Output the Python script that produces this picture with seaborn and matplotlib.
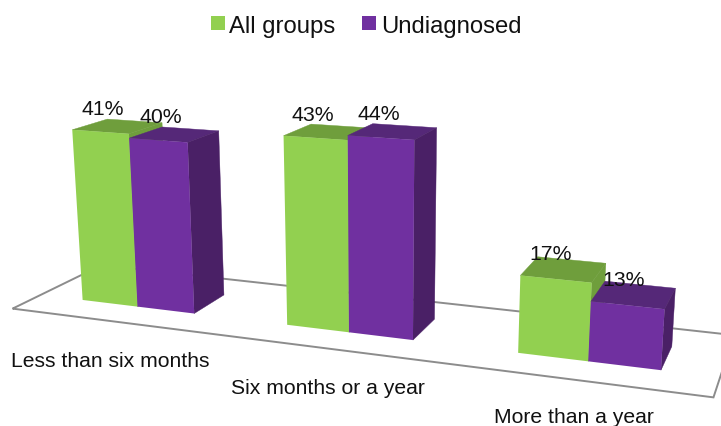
import matplotlib
matplotlib.use("Agg")
import matplotlib.pyplot as plt
import numpy as np
import pandas as pd
import seaborn as sns
from matplotlib.patches import Polygon
from matplotlib.transforms import Affine2D, Transform

W, H = 721, 427

categories = ["Less than six months", "Six months or a year", "More than a year"]
all_groups = [41, 43, 17]
undiagnosed = [40, 44, 13]
series_names = ["All groups", "Undiagnosed"]

GREEN, GREEN_DARK = "#92D050", "#6F9E3C"
PURPLE, PURPLE_TOP, PURPLE_SIDE = "#7030A0", "#552878", "#4A2066"

# camera fit: (bar x, depth, percent) -> pixel in the reference, used only to
# get the 3x4 projection of the fake-3D view
CALIB = np.array([
    (-0.28, 0, 0, 82, 300.7), (0, 0, 0, 137.7, 307.7), (0.28, 0, 0, 195.7, 314.3),
    (-0.28, 0, 41, 71.7, 130.7), (0, 0, 40, 129.3, 138.7), (0.28, 0, 40, 189, 143.7),
    (0.28, 1, 40, 220, 132.3), (0.28, 1, 0, 225.3, 295), (-0.28, 1, 41, 106.7, 120),
    (0, 1, 41, 162.3, 124.3), (0.72, 0, 43, 282.3, 136.7), (0.72, 1, 43, 310, 125),
    (0.72, 0, 0, 285.7, 326), (1, 0, 0, 348.7, 333.3), (1, 0, 44, 347.3, 135.7),
    (1.28, 0, 44, 415.7, 141), (1.28, 0, 0, 414, 340.7), (1.28, 1, 44, 437, 129),
    (1.28, 1, 0, 435, 319.3), (1, 1, 44, 372.7, 124.3), (1.72, 0, 17, 519, 276.7),
    (1.72, 1, 17, 538.3, 258.3), (2, 1, 17, 604.7, 264.3), (2, 0, 17, 591, 282.7),
    (1.72, 0, 0, 516.3, 354), (2, 0, 0, 588, 362.7), (2, 0, 13, 591, 302.7),
    (2.28, 0, 13, 665.7, 310), (2.28, 1, 13, 675, 290), (2.28, 0, 0, 662, 371.3),
    (2.28, 1, 0, 672.3, 346.7), (-0.5, -0.75, 0, 12.7, 310),
    (-0.5, 1.8, 0, 100.5, 267), (2.5, -0.75, 0, 713.3, 399.3),
])


def fit_camera(pts):
    rows, rhs = [], []
    for x, d, z, u, v in pts:
        rows.append([x, d, z, 1, 0, 0, 0, 0, -u * x, -u * d, -u * z])
        rows.append([0, 0, 0, 0, x, d, z, 1, -v * x, -v * d, -v * z])
        rhs += [u, v]
    p = np.linalg.lstsq(np.array(rows), np.array(rhs), rcond=None)[0]
    return np.append(p, 1).reshape(3, 4)


CAM = fit_camera(CALIB)


def project(x, d, z):
    """Pixel position (y down) of a point of the 3D chart."""
    u, v, w = CAM @ np.array([x, d, z, 1.0])
    return u / w, v / w


class FrontPlane(Transform):
    """Sends seaborn's (x, percent) bars to the front plane of the 3D view, in display pixels."""
    input_dims = 2
    output_dims = 2

    def transform_non_affine(self, values):
        values = np.asarray(values, dtype=float)
        out = np.array([project(x, 0, z) for x, z in values])
        out[:, 1] = H - out[:, 1]
        return out


sns.set_theme(style="white")
plt.rcParams["font.family"] = ["Liberation Sans", "DejaVu Sans"]
plt.rcParams["text.color"] = "#111111"

df = pd.DataFrame({
    "period": categories * 2,
    "share": all_groups + undiagnosed,
    "series": [series_names[0]] * 3 + [series_names[1]] * 3,
})

fig = plt.figure(figsize=(W / 100, H / 100), dpi=100, facecolor="white")
ax = fig.add_axes([0, 0, 1, 1])
sns.barplot(data=df, x="period", y="share", hue="series", palette=[GREEN, PURPLE],
            width=0.56, gap=0, saturation=1, linewidth=0, errorbar=None, ax=ax)
ax.set_xlabel("")
ax.set_ylabel("")
ax.axis("off")

px = Affine2D().scale(1, -1).translate(0, H)
front = FrontPlane()


def face(points, color, zorder):
    ax.add_patch(Polygon(points, closed=True, facecolor=color, edgecolor=color, linewidth=0.3,
                         transform=px, zorder=zorder, clip_on=False))


# floor outline
DF, DB = -0.75, 1.8
floor = [project(-0.5, DF, 0), project(2.5, DF, 0), project(2.5, DB, 0), project(-0.5, DB, 0)]
ax.add_patch(Polygon(floor, closed=True, fill=False, edgecolor="#8C8C8C", linewidth=1.4,
                     transform=px, zorder=1, clip_on=False))

# extrude every seaborn bar: top and side behind, the bar itself in front
top_colors = [GREEN_DARK, PURPLE_TOP]
side_colors = [GREEN_DARK, PURPLE_SIDE]
for s, container in enumerate(ax.containers):
    for k, bar in enumerate(container):
        x0, x1, z = bar.get_x(), bar.get_x() + bar.get_width(), bar.get_height()
        base = 2 + 2 * k + s * 0.5
        face([project(x0, 0, z), project(x1, 0, z), project(x1, 1, z), project(x0, 1, z)],
             top_colors[s], base)
        face([project(x1, 0, 0), project(x1, 0, z), project(x1, 1, z), project(x1, 1, 0)],
             side_colors[s], base)
        bar.set_transform(front)
        bar.set_clip_on(False)
        bar.set_zorder(base + 0.2)

# data labels
label_px = [(103, 110), (161, 118), (313, 116), (378.5, 115), (551, 255), (624, 281)]
label_vals = [all_groups[0], undiagnosed[0], all_groups[1], undiagnosed[1], all_groups[2], undiagnosed[2]]
for (x, y), v in zip(label_px, label_vals):
    ax.text(x, y, f"{v}%", transform=px, ha="center", va="center", fontsize=15.3, zorder=20)

# category labels sit along the front edge of the floor
cat_px = [(110.5, 362), (327.5, 389), (573.5, 417.5)]
for (x, y), name in zip(cat_px, categories):
    ax.text(x, y, name, transform=px, ha="center", va="center", fontsize=15.2, zorder=20)

sns.move_legend(ax, "center", bbox_to_anchor=(366 / W, 1 - 26.5 / H), ncol=2, title=None,
                frameon=False, fontsize=17.2, handlelength=0.58, handleheight=0.58,
                handletextpad=0.2, columnspacing=1.1, borderpad=0, borderaxespad=0)

fig.savefig("out.png", dpi=100)
plt.close(fig)
